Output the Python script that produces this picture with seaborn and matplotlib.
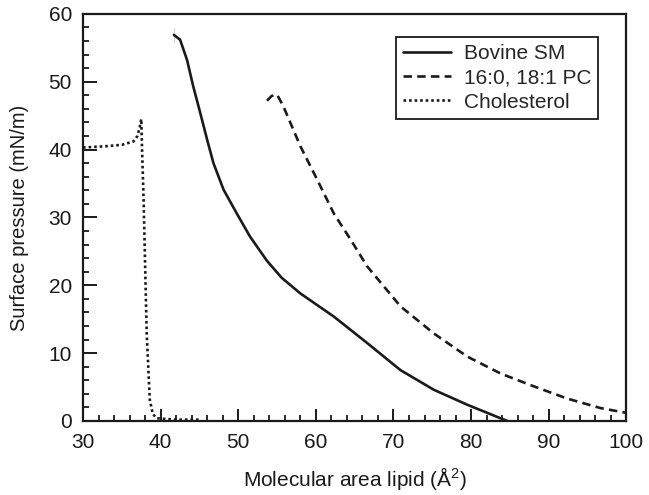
import pandas as pd
import matplotlib.pyplot as plt
from matplotlib.ticker import MultipleLocator
import seaborn as sns

# Isotherm data
sm_area = [41.7, 41.7, 42.5, 43.4, 44.2, 45.1, 46.0, 46.8, 48.1, 49.8, 51.5, 53.7,
           55.6, 58.0, 62.3, 66.6, 70.9, 75.2, 79.5, 83.8, 84.7]
sm_pressure = [55.9, 57.9, 56.2, 53.2, 49.3, 45.4, 41.4, 38.0, 34.1, 30.6, 27.2, 23.6,
               21.1, 18.8, 15.4, 11.5, 7.5, 4.6, 2.4, 0.4, 0.0]

pc_area = [53.7, 54.3, 55.0, 55.8, 58.0, 60.2, 62.3, 64.5, 66.6, 70.9, 75.2, 79.5,
           83.8, 88.1, 92.4, 96.7, 100.0]
pc_pressure = [47.2, 47.9, 48.1, 46.4, 40.5, 35.5, 30.6, 26.7, 22.8, 16.9, 12.9, 9.5,
               7.0, 5.1, 3.3, 1.9, 1.2]

chol_area = [30.0, 33.0, 35.0, 36.5, 37.0, 37.3, 37.5, 37.6, 37.8, 38.2, 38.6, 39.0, 39.5, 42.0, 45.0]
chol_pressure = [40.3, 40.5, 40.7, 41.2, 42.0, 43.3, 44.5, 40.0, 32.6, 12.9, 3.1, 1.0, 0.4, 0.2, 0.2]

sns.set_style("ticks")
plt.rcParams['font.family'] = ['Liberation Sans', 'DejaVu Sans']
plt.rcParams['mathtext.default'] = 'regular'

fig = plt.figure(figsize=(6.49, 4.95), dpi=100)
ax = fig.add_axes([0.128, 0.1495, 0.837, 0.8225])

ink = '#1a1a1a'
sns.lineplot(x=sm_area, y=sm_pressure, sort=False, ax=ax, color=ink,
             linewidth=1.9, linestyle='-', label='Bovine SM')
sns.lineplot(x=pc_area, y=pc_pressure, sort=False, ax=ax, color=ink,
             linewidth=1.9, linestyle=(0, (3.2, 2.0)), label='16:0, 18:1 PC')
sns.lineplot(x=chol_area, y=chol_pressure, sort=False, ax=ax, color=ink,
             linewidth=1.9, linestyle=(0, (1.0, 1.1)), label='Cholesterol')

ax.set_xlim(30, 100)
ax.set_ylim(0, 60)
ax.xaxis.set_major_locator(MultipleLocator(10))
ax.xaxis.set_minor_locator(MultipleLocator(2))
ax.yaxis.set_major_locator(MultipleLocator(10))
ax.yaxis.set_minor_locator(MultipleLocator(2))
ax.tick_params(which='major', direction='in', length=10, width=1.4, labelsize=15, colors=ink)
ax.tick_params(which='minor', direction='in', length=4.5, width=1.3, colors=ink)
ax.tick_params(axis='x', which='major', length=9, pad=9)
ax.tick_params(axis='y', which='major', pad=8)
for s in ax.spines.values():
    s.set_linewidth(1.6)
    s.set_color(ink)

ax.set_xlabel('Molecular area lipid (Å$^2$)', fontsize=15, labelpad=9, color=ink)
ax.set_ylabel('Surface pressure (mN/m)', fontsize=14.5, labelpad=14, color=ink)

leg = ax.legend(loc='upper left', bbox_to_anchor=(0.576, 0.943), fontsize=15,
                frameon=True, fancybox=False, framealpha=1, edgecolor=ink,
                handlelength=2.3, handletextpad=0.6, borderpad=0.35, labelspacing=0.25,
                borderaxespad=0)
leg.get_frame().set_linewidth(1.3)

fig.savefig('out.png', dpi=100)
